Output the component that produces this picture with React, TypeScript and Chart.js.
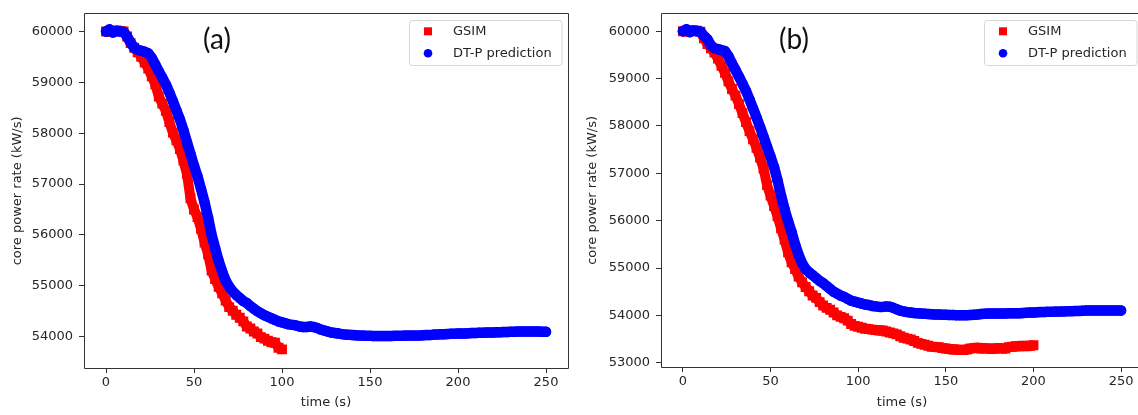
import React, { useEffect, useRef } from 'react';
import { Chart, registerables } from 'chart.js';

Chart.register(...registerables);

// ---------- data ----------
const timeSeconds = [
  0, 2, 4, 6, 8, 10, 12, 14, 16, 18,
  20, 22, 24, 26, 28, 30, 32, 34, 36, 38,
  40, 42, 44, 46, 48, 50, 52, 54, 56, 58,
  60, 62, 64, 66, 68, 70, 72, 74, 76, 78,
  80, 82, 84, 86, 88, 90, 92, 94, 96, 98,
  100, 102, 104, 106, 108, 110, 112, 114, 116, 118,
  120, 122, 124, 126, 128, 130, 132, 134, 136, 138,
  140, 142, 144, 146, 148, 150, 152, 154, 156, 158,
  160, 162, 164, 166, 168, 170, 172, 174, 176, 178,
  180, 182, 184, 186, 188, 190, 192, 194, 196, 198,
  200, 202, 204, 206, 208, 210, 212, 214, 216, 218,
  220, 222, 224, 226, 228, 230, 232, 234, 236, 238,
  240, 242, 244, 246, 248, 250,
];

// DT-P prediction, panel (a): 0..250 s
const dtpA = [
  60000, 60040, 59980, 60010, 60000, 59990, 59900, 59780, 59680, 59640,
  59620, 59600, 59570, 59480, 59350, 59215, 59090, 58960, 58800, 58630,
  58450, 58270, 58060, 57820, 57590, 57360, 57150, 56900, 56640, 56340,
  56000, 55740, 55490, 55280, 55100, 54980, 54890, 54820, 54760, 54700,
  54660, 54600, 54550, 54500, 54460, 54420, 54390, 54360, 54330, 54300,
  54280, 54260, 54240, 54230, 54220, 54200, 54190, 54190, 54200, 54190,
  54170, 54140, 54120, 54100, 54080, 54070, 54060, 54050, 54040, 54035,
  54030, 54025, 54020, 54020, 54015, 54015, 54010, 54010, 54010, 54010,
  54010, 54010, 54015, 54015, 54015, 54020, 54020, 54020, 54020, 54020,
  54025, 54030, 54030, 54040, 54040, 54045, 54045, 54050, 54055, 54055,
  54060, 54060, 54060, 54065, 54070, 54070, 54075, 54075, 54080, 54080,
  54080, 54085, 54085, 54090, 54090, 54095, 54095, 54100, 54100, 54100,
  54100, 54100, 54100, 54100, 54095, 54095,
];

// DT-P prediction, panel (b): 0..250 s
const dtpB = [
  60000, 60040, 59980, 60010, 60000, 59990, 59900, 59830, 59700, 59640,
  59620, 59600, 59580, 59470, 59320, 59180, 59040, 58890, 58740, 58560,
  58370, 58180, 57980, 57770, 57560, 57350, 57130, 56850, 56530, 56240,
  55990, 55760, 55500, 55280, 55100, 54980, 54910, 54850, 54790, 54730,
  54680, 54620, 54560, 54500, 54460, 54420, 54390, 54350, 54310, 54290,
  54270, 54250, 54230, 54220, 54200, 54190, 54180, 54180, 54190, 54185,
  54160, 54130, 54100, 54085, 54070, 54060, 54050, 54045, 54040, 54035,
  54030, 54025, 54020, 54020, 54015, 54015, 54010, 54010, 54005, 54005,
  54005, 54005, 54010, 54015, 54020, 54030, 54035, 54040, 54040, 54040,
  54040, 54040, 54040, 54045, 54045, 54045, 54045, 54050, 54055, 54060,
  54060, 54065, 54070, 54070, 54075, 54075, 54080, 54080, 54085, 54085,
  54090, 54090, 54095, 54095, 54100, 54105, 54105, 54105, 54105, 54105,
  54105, 54105, 54105, 54105, 54105, 54105,
];

// GSIM, panel (a): 0..100 s
const gsimA = [
  60000, 59990, 60010, 60020, 60010, 60000, 59900, 59770, 59680, 59590,
  59500, 59390, 59270, 59120, 58960, 58720, 58580, 58440, 58220, 58010,
  57860, 57690, 57460, 57200, 56720, 56500, 56350, 56120, 55850, 55620,
  55300, 55130, 54980, 54850, 54710, 54580, 54510, 54430, 54370, 54300,
  54200, 54160, 54100, 54060, 53990, 53960, 53920, 53890, 53880, 53780,
  53750,
];

// GSIM, panel (b): 0..200 s
const gsimB = [
  60000, 59990, 60010, 60020, 60010, 59990, 59850, 59730, 59640, 59550,
  59420, 59270, 59120, 58940, 58780, 58640, 58460, 58270, 58080, 57890,
  57720, 57540, 57330, 57100, 56750, 56530, 56310, 56090, 55840, 55600,
  55330, 55120, 54980, 54820, 54700, 54600, 54510, 54420, 54370, 54280,
  54210, 54160, 54120, 54060, 54000, 53970, 53940, 53890, 53820, 53780,
  53760, 53740, 53720, 53710, 53700, 53690, 53680, 53680, 53660, 53640,
  53620, 53600, 53560, 53530, 53510, 53490, 53460, 53420, 53400, 53380,
  53360, 53340, 53330, 53330, 53310, 53300, 53290, 53280, 53280, 53270,
  53270, 53280, 53300, 53310, 53320, 53300, 53310, 53300, 53290, 53300,
  53310, 53300, 53300, 53330, 53340, 53350, 53350, 53360, 53350, 53360,
  53370,
];

const xTicks = [0, 50, 100, 150, 200, 250];
const yTicksA = [54000, 55000, 56000, 57000, 58000, 59000, 60000];
const yTicksB = [53000, 54000, 55000, 56000, 57000, 58000, 59000, 60000];

const seriesLabels = ['GSIM', 'DT-P prediction'];
const xTitle = 'time (s)';
const yTitle = 'core power rate (kW/s)';

// ---------- helpers ----------
const TEXT = '#262626';
const SPINE = '#333333';
const FONT = 'DejaVu Sans';
const RED = '#ff0000';
const BLUE = '#0000ff';

const toPoints = (ys: number[]) => ys.map((y, i) => ({ x: timeSeconds[i], y }));

const align = (p: number) => Math.round(p - 0.5) + 0.5;

const framePlugin = {
  id: 'mplFrame',
  afterDraw(chart: any, _args: any, opts: any) {
    const { ctx, chartArea } = chart;
    const { left, right, top, bottom } = chartArea;
    ctx.save();
    // spines
    ctx.strokeStyle = SPINE;
    ctx.lineWidth = 1;
    ctx.beginPath();
    ctx.rect(align(left), align(top), align(right) - align(left), align(bottom) - align(top));
    ctx.stroke();

    // legend
    const bx = chartArea.right - 159;
    const by = chartArea.top + 7;
    const bw = 152.5;
    const bh = 45;
    ctx.fillStyle = 'rgba(255,255,255,0.85)';
    ctx.strokeStyle = '#d6d6d6';
    ctx.beginPath();
    if ((ctx as any).roundRect) (ctx as any).roundRect(align(bx), align(by), bw, bh, 3);
    else ctx.rect(align(bx), align(by), bw, bh);
    ctx.fill();
    ctx.stroke();
    chart.data.datasets.forEach((ds: any, i: number) => {
      const cy = by + 10.5 + i * 22;
      const mx = bx + 19;
      ctx.fillStyle = ds.backgroundColor;
      if (ds.pointStyle === 'rect') {
        ctx.fillRect(mx - 4, cy - 4, 8, 8);
      } else {
        ctx.beginPath();
        ctx.arc(mx, cy, 4.3, 0, Math.PI * 2);
        ctx.fill();
      }
      ctx.fillStyle = TEXT;
      ctx.font = `13px "${FONT}"`;
      ctx.textAlign = 'left';
      ctx.textBaseline = 'middle';
      ctx.fillText(ds.label, bx + 44, cy);
    });

    // panel tag
    ctx.font = '28px Lato';
    ctx.fillStyle = '#111111';
    ctx.textAlign = 'center';
    ctx.textBaseline = 'alphabetic';
    ctx.fillText(opts.tag, chartArea.left + 133, chartArea.top + 35.5);
    ctx.restore();
  },
};

type PanelCfg = {
  tag: string;
  gsim: number[];
  dtp: number[];
  yTicks: number[];
  yMin: number;
  yMax: number;
  yAxisWidth: number;
  xAxisHeight: number;
};

function makeConfig(cfg: PanelCfg): any {
  return {
    type: 'scatter',
    data: {
      datasets: [
        {
          label: seriesLabels[0],
          data: toPoints(cfg.gsim),
          backgroundColor: RED,
          borderColor: RED,
          showLine: true,
          borderWidth: 10,
          borderJoinStyle: 'miter',
          borderCapStyle: 'butt',
          tension: 0,
          pointBorderWidth: 0,
          pointStyle: 'rect',
          pointRadius: 7,
          order: 2,
        },
        {
          label: seriesLabels[1],
          data: toPoints(cfg.dtp),
          backgroundColor: BLUE,
          borderColor: BLUE,
          showLine: true,
          borderWidth: 10.5,
          borderJoinStyle: 'round',
          borderCapStyle: 'round',
          tension: 0,
          pointBorderWidth: 0,
          pointStyle: 'circle',
          pointRadius: 5.2,
          order: 1,
        },
      ],
    },
    options: {
      responsive: false,
      animation: false,
      devicePixelRatio: 1,
      events: [],
      layout: { padding: { left: 0, top: 7, right: 6, bottom: 0 } },
      plugins: {
        legend: { display: false },
        tooltip: { enabled: false },
        title: { display: false },
        mplFrame: { tag: cfg.tag },
      },
      scales: {
        x: {
          type: 'linear',
          position: 'bottom',
          min: -12.5,
          max: 262.5,
          afterBuildTicks: (s: any) => {
            s.ticks = xTicks.map((v) => ({ value: v }));
          },
          afterFit: (s: any) => {
            s.height = cfg.xAxisHeight;
          },
          ticks: {
            autoSkip: false,
            maxRotation: 0,
            padding: 2,
            color: TEXT,
            font: { family: FONT, size: 13 },
            callback: (v: any) => String(v),
          },
          grid: {
            display: true,
            drawOnChartArea: false,
            drawTicks: true,
            tickLength: 5,
            color: SPINE,
            lineWidth: 1,
          },
          border: { display: false },
          title: {
            display: true,
            text: xTitle,
            color: TEXT,
            font: { family: FONT, size: 13 },
            padding: { top: 0, bottom: 5 },
          },
        },
        y: {
          type: 'linear',
          position: 'left',
          min: cfg.yMin,
          max: cfg.yMax,
          afterBuildTicks: (s: any) => {
            s.ticks = cfg.yTicks.map((v) => ({ value: v }));
          },
          afterFit: (s: any) => {
            s.width = cfg.yAxisWidth;
          },
          ticks: {
            autoSkip: false,
            padding: 6,
            color: TEXT,
            font: { family: FONT, size: 13 },
            callback: (v: any) => String(v),
          },
          grid: {
            display: true,
            drawOnChartArea: false,
            drawTicks: true,
            tickLength: 5,
            color: SPINE,
            lineWidth: 1,
          },
          border: { display: false },
          title: {
            display: true,
            text: yTitle,
            color: TEXT,
            font: { family: FONT, size: 13 },
            padding: { top: 10, bottom: 0 },
          },
        },
      },
    },
    plugins: [framePlugin],
  };
}

function Panel({ cfg, left }: { cfg: PanelCfg; left: number }) {
  const ref = useRef<HTMLCanvasElement | null>(null);
  useEffect(() => {
    if (!ref.current) return;
    const chart = new Chart(ref.current, makeConfig(cfg));
    return () => chart.destroy();
  }, []);
  return (
    <canvas
      ref={ref}
      width={575}
      height={415}
      style={{ position: 'absolute', left, top: 0, width: 575, height: 415, display: 'block' }}
    />
  );
}

const panelA: PanelCfg = {
  tag: '(a)',
  gsim: gsimA,
  dtp: dtpA,
  yTicks: yTicksA,
  yMin: 53383,
  yMax: 60347,
  yAxisWidth: 84,
  xAxisHeight: 47,
};

const panelB: PanelCfg = {
  tag: '(b)',
  gsim: gsimB,
  dtp: dtpB,
  yTicks: yTicksB,
  yMin: 52911,
  yMax: 60367,
  yAxisWidth: 86,
  xAxisHeight: 48,
};

export default function App() {
  return (
    <div
      style={{
        position: 'absolute',
        left: 0,
        top: 0,
        width: 1138,
        height: 415,
        overflow: 'hidden',
        background: '#ffffff',
      }}
    >
      <Panel cfg={panelA} left={0} />
      <Panel cfg={panelB} left={575} />
    </div>
  );
}
